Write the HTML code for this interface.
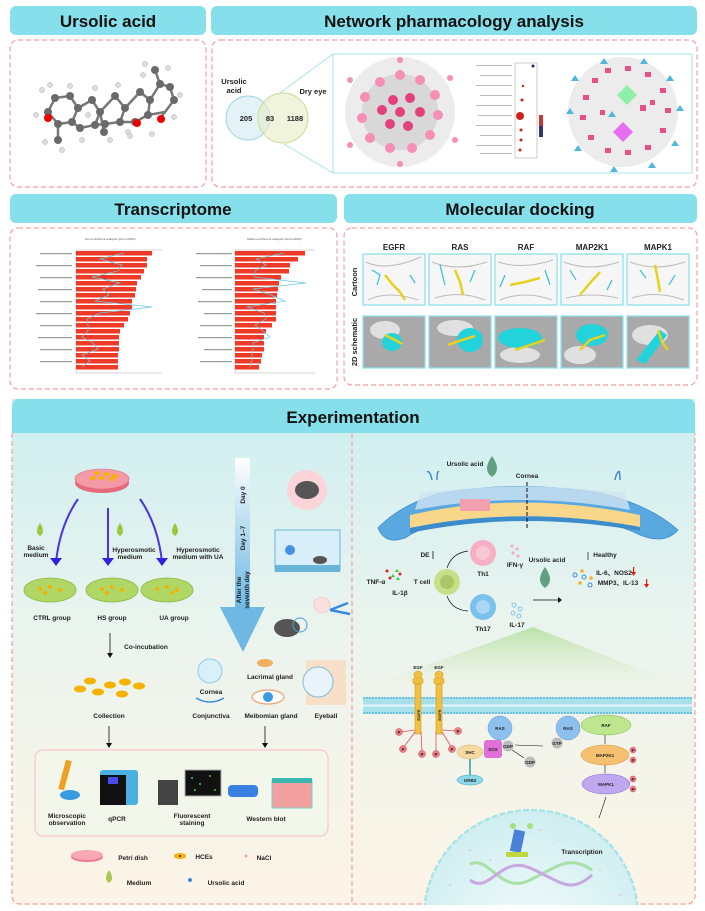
<!DOCTYPE html>
<html><head><meta charset="utf-8"><style>
html,body{margin:0;padding:0;background:#fff;width:705px;height:911px;overflow:hidden;}
svg{display:block;font-family:"Liberation Sans",sans-serif;}
.h{font-weight:bold;font-size:17px;fill:#111;text-anchor:middle;}
.l{font-weight:bold;font-size:6.5px;fill:#222;text-anchor:middle;}
.s{font-size:3px;fill:#555;}
</style></head><body>
<svg width="705" height="911" viewBox="0 0 705 911" xmlns="http://www.w3.org/2000/svg">
<defs>
<linearGradient id="bg" x1="0" y1="0" x2="0" y2="1"><stop offset="0" stop-color="#cdeef1"/><stop offset="0.45" stop-color="#eaf4ee"/><stop offset="1" stop-color="#fdf4e6"/></linearGradient>
<linearGradient id="tl" x1="0" y1="0" x2="0" y2="1"><stop offset="0" stop-color="#ffffff"/><stop offset="0.4" stop-color="#bfe0f2"/><stop offset="1" stop-color="#6fb8e3"/></linearGradient>
<linearGradient id="gw" x1="0" y1="0" x2="0" y2="1"><stop offset="0" stop-color="#b9e2a8"/><stop offset="1" stop-color="#f3f1e2" stop-opacity="0"/></linearGradient>
<radialGradient id="nuc" cx="0.5" cy="0.6" r="0.6"><stop offset="0" stop-color="#f4fbfb"/><stop offset="1" stop-color="#cfeef0"/></radialGradient>
</defs>

<rect x="10" y="6" width="196" height="29" rx="6" fill="#86e0ec"/>
<text class="h" x="108" y="27">Ursolic acid</text>
<rect x="211" y="6" width="486" height="29" rx="6" fill="#86e0ec"/>
<text class="h" x="454" y="27">Network pharmacology analysis</text>
<rect x="10" y="194" width="327" height="29" rx="6" fill="#86e0ec"/>
<text class="h" x="173" y="215">Transcriptome</text>
<rect x="344" y="194" width="353" height="29" rx="6" fill="#86e0ec"/>
<text class="h" x="520" y="215">Molecular docking</text>

<g fill="none" stroke="#f3a0a0" stroke-width="1.2" stroke-dasharray="5,3">
<rect x="10" y="40" width="196" height="147" rx="8"/>
<rect x="212" y="40" width="485" height="147" rx="8"/>
<rect x="10" y="228" width="327" height="161" rx="8"/>
<rect x="344" y="228" width="353" height="157" rx="8"/>
</g>

<g stroke="#777" stroke-width="2.5">
<polyline fill="none" points="48,112 55,98 70,96 78,108 72,122 58,124 48,112"/>
<polyline fill="none" points="78,108 92,100 100,112 95,125 80,128 72,122"/>
<polyline fill="none" points="100,112 115,96 125,108 120,122 105,124 95,125"/>
<polyline fill="none" points="125,108 140,92 150,100 148,115 135,122 120,122"/>
<polyline fill="none" points="150,100 160,84 170,87 174,100 165,112 148,115"/>
<line x1="58" y1="124" x2="58" y2="140"/><line x1="100" y1="112" x2="104" y2="132"/><line x1="160" y1="84" x2="155" y2="70"/><line x1="165" y1="112" x2="160" y2="118"/>
</g>
<g fill="#6a6a6a">
<circle cx="48" cy="112" r="4"/><circle cx="55" cy="98" r="4"/><circle cx="70" cy="96" r="4"/><circle cx="78" cy="108" r="4"/><circle cx="72" cy="122" r="4"/><circle cx="58" cy="124" r="4"/><circle cx="92" cy="100" r="4"/><circle cx="100" cy="112" r="4"/><circle cx="95" cy="125" r="4"/><circle cx="80" cy="128" r="4"/><circle cx="115" cy="96" r="4"/><circle cx="125" cy="108" r="4"/><circle cx="120" cy="122" r="4"/><circle cx="105" cy="124" r="4"/><circle cx="140" cy="92" r="4"/><circle cx="150" cy="100" r="4"/><circle cx="148" cy="115" r="4"/><circle cx="135" cy="122" r="4"/><circle cx="160" cy="84" r="4"/><circle cx="170" cy="87" r="4"/><circle cx="174" cy="100" r="4"/><circle cx="58" cy="140" r="4"/><circle cx="104" cy="132" r="4"/><circle cx="155" cy="70" r="4"/>
</g>
<g fill="#ddd" stroke="#aaa" stroke-width="0.5">
<circle cx="42" cy="90" r="2.5"/><circle cx="50" cy="85" r="2.5"/><circle cx="70" cy="86" r="2.5"/><circle cx="95" cy="88" r="2.5"/><circle cx="118" cy="85" r="2.5"/><circle cx="143" cy="75" r="2.5"/><circle cx="145" cy="64" r="2.5"/><circle cx="168" cy="68" r="2.5"/><circle cx="180" cy="95" r="2.5"/><circle cx="174" cy="117" r="2.5"/><circle cx="152" cy="134" r="2.5"/><circle cx="130" cy="136" r="2.5"/><circle cx="110" cy="140" r="2.5"/><circle cx="82" cy="140" r="2.5"/><circle cx="62" cy="150" r="2.5"/><circle cx="45" cy="142" r="2.5"/><circle cx="36" cy="115" r="2.5"/><circle cx="88" cy="115" r="2.5"/><circle cx="128" cy="132" r="2.5"/>
</g>
<circle cx="48" cy="118" r="4" fill="#e00"/><circle cx="137" cy="123" r="4" fill="#e00"/><circle cx="161" cy="119" r="4" fill="#e00"/>

<circle cx="248" cy="118" r="22" fill="#cfeaf2" fill-opacity="0.6" stroke="#9fd3e2"/>
<circle cx="283" cy="118" r="25" fill="#e6ecc4" fill-opacity="0.6" stroke="#c5dc90"/>
<text class="l" x="234" y="84" style="font-size:7.5px">Ursolic</text>
<text class="l" x="234" y="93" style="font-size:7.5px">acid</text>
<text class="l" x="313" y="94" style="font-size:7.5px">Dry eye</text>
<text class="l" x="246" y="121" style="font-size:7.5px">205</text>
<text class="l" x="270" y="121" style="font-size:7.5px">83</text>
<text class="l" x="295" y="121" style="font-size:7.5px">1188</text>
<line x1="280" y1="93" x2="333" y2="54" stroke="#9fe0ec" stroke-width="0.8"/>
<line x1="284" y1="144" x2="333" y2="173" stroke="#9fe0ec" stroke-width="0.8"/>
<rect x="333" y="54" width="359" height="119" fill="none" stroke="#a8e4ee" stroke-width="1"/>
<circle cx="400" cy="112" r="55" fill="#ececec"/>
<circle cx="400" cy="112" r="38" fill="#d8d8d8"/>
<g fill="#f58fb6">
<circle cx="400" cy="75" r="5"/><circle cx="420" cy="80" r="5"/><circle cx="435" cy="95" r="5"/><circle cx="438" cy="115" r="5"/><circle cx="430" cy="135" r="5"/><circle cx="412" cy="148" r="5"/><circle cx="390" cy="148" r="5"/><circle cx="370" cy="138" r="5"/><circle cx="362" cy="118" r="5"/><circle cx="365" cy="97" r="5"/><circle cx="380" cy="82" r="5"/>
<circle cx="350" cy="80" r="3"/><circle cx="450" cy="78" r="3"/><circle cx="455" cy="140" r="3"/><circle cx="350" cy="145" r="3"/><circle cx="400" cy="60" r="3"/><circle cx="400" cy="164" r="3"/>
</g>
<g fill="#e3407e">
<circle cx="393" cy="100" r="5"/><circle cx="410" cy="98" r="5"/><circle cx="420" cy="112" r="5"/><circle cx="408" cy="126" r="5"/><circle cx="390" cy="124" r="5"/><circle cx="382" cy="110" r="5"/><circle cx="400" cy="112" r="5"/>
</g>
<rect x="515" y="63" width="22" height="95" fill="#fff" stroke="#999" stroke-width="0.5"/>
<g fill="#c22"><circle cx="520" cy="116" r="4"/><circle cx="521" cy="130" r="1.5"/><circle cx="521" cy="140" r="1.5"/><circle cx="520" cy="150" r="1.5"/><circle cx="522" cy="100" r="1.5"/><circle cx="523" cy="86" r="1.2"/></g>
<circle cx="533" cy="66" r="1.5" fill="#227"/>
<g fill="#bbb"><rect x="476" y="65" width="36" height="1"/><rect x="480" y="75" width="32" height="1"/><rect x="476" y="85" width="36" height="1"/><rect x="480" y="95" width="32" height="1"/><rect x="476" y="105" width="36" height="1"/><rect x="478" y="115" width="34" height="1"/><rect x="476" y="125" width="36" height="1"/><rect x="480" y="135" width="32" height="1"/><rect x="476" y="145" width="36" height="1"/><rect x="480" y="153" width="32" height="1"/></g>
<rect x="539" y="115" width="4" height="22" fill="#c33"/><rect x="539" y="126" width="4" height="11" fill="#337"/>
<circle cx="623" cy="112" r="55" fill="#ececec"/>
<g fill="#e84e8a">
<rect x="605" y="68" width="6" height="5"/><rect x="625" y="66" width="6" height="5"/><rect x="645" y="72" width="6" height="5"/><rect x="660" y="88" width="6" height="5"/><rect x="665" y="108" width="6" height="5"/><rect x="660" y="128" width="6" height="5"/><rect x="645" y="145" width="6" height="5"/><rect x="625" y="150" width="6" height="5"/><rect x="605" y="148" width="6" height="5"/><rect x="588" y="135" width="6" height="5"/><rect x="580" y="115" width="6" height="5"/><rect x="583" y="95" width="6" height="5"/><rect x="592" y="78" width="6" height="5"/><rect x="640" y="105" width="6" height="6"/><rect x="650" y="100" width="5" height="5"/><rect x="600" y="110" width="5" height="5"/>
</g>
<polygon points="627,85 637,95 627,105 617,95" fill="#8ef0a8"/>
<polygon points="623,122 633,132 623,142 613,132" fill="#e66ef0"/>
<g fill="#4fb8e0"><polygon points="604,58 608,64 600,64"/><polygon points="644,58 648,64 640,64"/><polygon points="575,75 579,81 571,81"/><polygon points="570,108 574,114 566,114"/><polygon points="578,145 582,151 574,151"/><polygon points="614,166 618,172 610,172"/><polygon points="652,162 656,168 648,168"/><polygon points="675,140 679,146 671,146"/><polygon points="680,105 684,111 676,111"/><polygon points="670,75 674,81 666,81"/><polygon points="612,111 616,117 608,117"/></g>

<text class="s" x="85" y="240">GO enrichment analysis (UA vs MOD)</text>
<text class="s" x="247" y="240">KEGG enrichment analysis (UA vs MOD)</text>
<line x1="76" y1="250" x2="162" y2="250" stroke="#999" stroke-width="0.4"/>
<line x1="76" y1="250" x2="76" y2="373" stroke="#999" stroke-width="0.4"/>
<line x1="76" y1="373" x2="162" y2="373" stroke="#999" stroke-width="0.4"/>
<line x1="235" y1="250" x2="315" y2="250" stroke="#999" stroke-width="0.4"/>
<line x1="235" y1="250" x2="235" y2="373" stroke="#999" stroke-width="0.4"/>
<line x1="235" y1="373" x2="315" y2="373" stroke="#999" stroke-width="0.4"/>
<g fill="#ee3a26">
<rect x="76" y="251" width="76" height="4.5"/><rect x="76" y="257" width="71" height="4.5"/><rect x="76" y="263" width="71" height="4.5"/><rect x="76" y="269" width="68" height="4.5"/><rect x="76" y="275" width="65" height="4.5"/><rect x="76" y="281" width="61" height="4.5"/><rect x="76" y="287" width="60" height="4.5"/><rect x="76" y="293" width="59" height="4.5"/><rect x="76" y="299" width="56" height="4.5"/><rect x="76" y="305" width="56" height="4.5"/><rect x="76" y="311" width="54" height="4.5"/><rect x="76" y="317" width="52" height="4.5"/><rect x="76" y="323" width="48" height="4.5"/><rect x="76" y="329" width="44" height="4.5"/><rect x="76" y="335" width="43" height="4.5"/><rect x="76" y="341" width="43" height="4.5"/><rect x="76" y="347" width="43" height="4.5"/><rect x="76" y="353" width="42" height="4.5"/><rect x="76" y="359" width="42" height="4.5"/><rect x="76" y="365" width="42" height="4.5"/>
<rect x="235" y="251" width="70" height="4.5"/><rect x="235" y="257" width="63" height="4.5"/><rect x="235" y="263" width="55" height="4.5"/><rect x="235" y="269" width="54" height="4.5"/><rect x="235" y="275" width="46" height="4.5"/><rect x="235" y="281" width="44" height="4.5"/><rect x="235" y="287" width="43" height="4.5"/><rect x="235" y="293" width="42" height="4.5"/><rect x="235" y="299" width="41" height="4.5"/><rect x="235" y="305" width="41" height="4.5"/><rect x="235" y="311" width="41" height="4.5"/><rect x="235" y="317" width="41" height="4.5"/><rect x="235" y="323" width="37" height="4.5"/><rect x="235" y="329" width="31" height="4.5"/><rect x="235" y="335" width="29" height="4.5"/><rect x="235" y="341" width="29" height="4.5"/><rect x="235" y="347" width="29" height="4.5"/><rect x="235" y="353" width="27" height="4.5"/><rect x="235" y="359" width="26" height="4.5"/><rect x="235" y="365" width="24" height="4.5"/>
</g>
<polyline fill="none" stroke="#6cc8e4" stroke-width="0.7" points="124,253 100,259 122,265 118,271 92,277 120,283 103,289 109,295 95,301 152,307 100,313 87,319 88,325 88,331 82,337 93,343 98,349 82,355 90,361 82,367"/>
<polyline fill="none" stroke="#6cc8e4" stroke-width="0.7" points="284,253 256,259 266,265 255,271 254,277 306,283 253,289 271,295 285,301 247,307 264,313 266,319 255,325 263,331 270,337 253,343 253,349 252,355 252,361 250,367"/>
<g fill="#999"><rect x="40" y="253" width="32" height="1.2"/><rect x="36" y="265" width="36" height="1.2"/><rect x="40" y="277" width="32" height="1.2"/><rect x="38" y="289" width="34" height="1.2"/><rect x="40" y="301" width="32" height="1.2"/><rect x="36" y="313" width="36" height="1.2"/><rect x="40" y="325" width="32" height="1.2"/><rect x="38" y="337" width="34" height="1.2"/><rect x="40" y="349" width="32" height="1.2"/><rect x="40" y="361" width="32" height="1.2"/>
<rect x="196" y="253" width="36" height="1.2"/><rect x="200" y="265" width="32" height="1.2"/><rect x="196" y="277" width="36" height="1.2"/><rect x="202" y="289" width="30" height="1.2"/><rect x="198" y="301" width="34" height="1.2"/><rect x="204" y="313" width="28" height="1.2"/><rect x="200" y="325" width="32" height="1.2"/><rect x="198" y="337" width="34" height="1.2"/><rect x="204" y="349" width="28" height="1.2"/><rect x="200" y="361" width="32" height="1.2"/></g>

<g class="l" style="font-size:8px">
<text x="394" y="250" text-anchor="middle">EGFR</text><text x="460" y="250" text-anchor="middle">RAS</text><text x="526" y="250" text-anchor="middle">RAF</text><text x="592" y="250" text-anchor="middle">MAP2K1</text><text x="658" y="250" text-anchor="middle">MAPK1</text>
</g>
<text class="l" transform="translate(357,282) rotate(-90)" style="font-size:7.5px">Cartoon</text>
<text class="l" transform="translate(357,342) rotate(-90)" style="font-size:7.5px">2D schematic</text>
<g stroke="#8ee0ec" stroke-width="1.3">
<rect x="363" y="254" width="62" height="51" fill="#f6f6f6"/><rect x="429" y="254" width="62" height="51" fill="#f6f6f6"/><rect x="495" y="254" width="62" height="51" fill="#f6f6f6"/><rect x="561" y="254" width="62" height="51" fill="#f6f6f6"/><rect x="627" y="254" width="62" height="51" fill="#f6f6f6"/>
<rect x="363" y="316" width="62" height="52" fill="#a9a9a9"/><rect x="429" y="316" width="62" height="52" fill="#a9a9a9"/><rect x="495" y="316" width="62" height="52" fill="#a9a9a9"/><rect x="561" y="316" width="62" height="52" fill="#a9a9a9"/><rect x="627" y="316" width="62" height="52" fill="#a9a9a9"/>
</g>
<g stroke="#bbb" stroke-width="1" fill="none"><path d="M366,262 q20,10 55,-5 M368,300 q20,-10 50,0 M432,262 q25,10 55,0 M435,298 q25,-8 50,2 M498,262 q25,8 55,-2 M500,300 q25,-10 52,0 M564,262 q25,10 55,0 M566,298 q25,-6 52,0 M630,262 q25,10 55,0 M632,298 q25,-8 52,2"/></g>
<g fill="#e0e0e0"><ellipse cx="385" cy="330" rx="15" ry="9"/><ellipse cx="455" cy="328" rx="18" ry="8"/><ellipse cx="520" cy="355" rx="20" ry="8"/><ellipse cx="580" cy="355" rx="16" ry="9"/><ellipse cx="650" cy="335" rx="18" ry="10"/></g>
<g fill="#22d3dc"><ellipse cx="392" cy="342" rx="10" ry="9"/><ellipse cx="470" cy="340" rx="13" ry="12"/><ellipse cx="520" cy="338" rx="22" ry="10"/><ellipse cx="592" cy="335" rx="16" ry="11"/><path d="M636,360 L660,330 L667,335 L645,364 Z"/></g>
<g stroke="#e8d21c" stroke-width="2.5" fill="none">
<polyline points="385,275 393,285 400,292 405,300"/><polyline points="455,270 460,282 463,295"/><polyline points="510,285 525,282 540,278"/><polyline points="580,295 590,283 600,272"/><polyline points="655,265 658,280 660,292"/>
<polyline points="385,335 395,340 402,344"/><polyline points="448,345 462,340 475,336"/><polyline points="515,350 530,345 545,340"/><polyline points="580,350 590,340 605,335"/><polyline points="658,330 662,342 668,350"/>
</g>
<g stroke="#2cc2d6" stroke-width="1.2" fill="none"><path d="M372,270 l8,5 -3,10 M410,275 l5,8 M440,265 l5,20 M475,270 l-5,12 M505,275 l-5,12 M545,270 l5,15 M570,270 l6,10 M612,280 l-5,10 M640,270 l6,8 M675,275 l-6,10"/></g>

<rect x="12" y="399" width="683" height="506" fill="url(#bg)"/>
<rect x="12" y="399" width="683" height="34" rx="7" fill="#86e0ec"/>
<rect x="12" y="420" width="683" height="13" fill="#86e0ec"/>
<text class="h" x="353" y="423">Experimentation</text>
<g fill="none" stroke="#f3a0a0" stroke-width="1.2" stroke-dasharray="5,3">
<path d="M12,433 V896 a8,8 0 0 0 8,8 H687 a8,8 0 0 0 8,-8 V433"/>
<line x1="352" y1="433" x2="352" y2="904"/>
</g>

<ellipse cx="102" cy="483" rx="27" ry="10" fill="#e66a7c"/>
<ellipse cx="102" cy="479" rx="27" ry="10" fill="#f49aa6" stroke="#e66a7c" stroke-width="0.6"/>
<g fill="#f5b300"><ellipse cx="97" cy="473" rx="3" ry="2"/><ellipse cx="107" cy="474" rx="3" ry="2"/><ellipse cx="115" cy="476" rx="3" ry="2"/><ellipse cx="93" cy="478" rx="3" ry="2"/><ellipse cx="102" cy="478" rx="3" ry="2"/><ellipse cx="112" cy="479" rx="3" ry="2"/></g>
<g stroke="#4a32e6" stroke-width="2" fill="none"><path d="M78,499 Q60,525 56,562"/><path d="M108,508 L108,562"/><path d="M140,499 Q158,525 162,562"/></g>
<g fill="#3322dd"><polygon points="50,558 62,558 56,566"/><polygon points="102,558 114,558 108,566"/><polygon points="156,558 168,558 162,566"/></g>
<g fill="#9cc63c"><path d="M40,523 q-6,9 0,13 q6,-4 0,-13z"/><path d="M120,523 q-6,9 0,13 q6,-4 0,-13z"/><path d="M175,523 q-6,9 0,13 q6,-4 0,-13z"/></g>
<text class="l" x="36" y="550">Basic</text><text class="l" x="36" y="557">medium</text>
<text class="l" x="134" y="552">Hyperosmotic</text><text class="l" x="130" y="559">medium</text>
<text class="l" x="198" y="552">Hyperosmotic</text><text class="l" x="198" y="559">medium with UA</text>
<g fill="#b0d665" stroke="#8eb843" stroke-width="0.8"><ellipse cx="50" cy="590" rx="26" ry="12"/><ellipse cx="112" cy="590" rx="26" ry="12"/><ellipse cx="167" cy="590" rx="26" ry="12"/></g>
<g fill="#f5b300"><circle cx="40" cy="589" r="2"/><circle cx="50" cy="587" r="2"/><circle cx="60" cy="590" r="2"/><circle cx="45" cy="593" r="2"/><circle cx="102" cy="589" r="2"/><circle cx="112" cy="587" r="2"/><circle cx="122" cy="590" r="2"/><circle cx="107" cy="593" r="2"/><circle cx="157" cy="589" r="2"/><circle cx="167" cy="587" r="2"/><circle cx="177" cy="590" r="2"/><circle cx="172" cy="593" r="2"/></g>
<text class="l" x="52" y="620">CTRL group</text><text class="l" x="112" y="620">HS group</text><text class="l" x="174" y="620">UA group</text>
<g stroke="#111" stroke-width="0.8"><line x1="110" y1="633" x2="110" y2="655"/><line x1="109" y1="726" x2="109" y2="745"/><line x1="265" y1="726" x2="265" y2="745"/></g>
<g fill="#111"><polygon points="107,653 113,653 110,658"/><polygon points="106,743 112,743 109,748"/><polygon points="262,743 268,743 265,748"/></g>
<text class="l" x="146" y="649">Co-incubation</text>
<g fill="#f5b300"><ellipse cx="80" cy="689" rx="6" ry="3.5"/><ellipse cx="98" cy="692" rx="6" ry="3.5"/><ellipse cx="110" cy="685" rx="6" ry="3.5"/><ellipse cx="125" cy="682" rx="6" ry="3.5"/><ellipse cx="139" cy="686" rx="6" ry="3.5"/><ellipse cx="122" cy="694" rx="6" ry="3.5"/><ellipse cx="90" cy="681" rx="6" ry="3.5"/></g>
<text class="l" x="109" y="718">Collection</text>
<rect x="235" y="458" width="15" height="150" fill="url(#tl)"/>
<polygon points="220,607 265,607 243,652" fill="#6fb8e3"/>
<text class="l" transform="translate(245,495) rotate(-90)">Day 0</text>
<text class="l" transform="translate(245,538) rotate(-90)">Day 1–7</text>
<text class="l" transform="translate(241,590) rotate(-90)">After the</text>
<text class="l" transform="translate(249,590) rotate(-90)">seventh day</text>
<circle cx="307" cy="490" r="20" fill="#fad4d8"/>
<ellipse cx="307" cy="490" rx="12" ry="9" fill="#555"/>
<rect x="275" y="530" width="65" height="40" fill="#d8eef8" stroke="#68b5d8"/>
<rect x="275" y="565" width="65" height="7" fill="#68b5d8"/>
<ellipse cx="320" cy="560" rx="7" ry="4" fill="#555"/>
<circle cx="290" cy="550" r="5" fill="#4a90e2"/>
<ellipse cx="287" cy="628" rx="13" ry="9" fill="#555"/>
<circle cx="300" cy="625" r="7" fill="none" stroke="#4aa0d8" stroke-width="1"/>
<circle cx="322" cy="605" r="8" fill="#fbe0e0" stroke="#ebb" stroke-width="0.6"/>
<path d="M330,610 L348,603 M330,610 L350,614" stroke="#3a8ae0" stroke-width="2.5"/>
<circle cx="210" cy="671" r="12" fill="#d8f0fa" stroke="#8fcbe6"/>
<path d="M196,698 q14,8 28,0" stroke="#3a8ae0" stroke-width="1.5" fill="none"/>
<text class="l" x="211" y="694">Cornea</text><text class="l" x="211" y="718">Conjunctiva</text>
<ellipse cx="265" cy="663" rx="8" ry="4" fill="#f0b060"/>
<text class="l" x="270" y="679">Lacrimal gland</text>
<ellipse cx="268" cy="697" rx="16" ry="7" fill="#fff" stroke="#e8a070" stroke-width="1.2"/>
<circle cx="268" cy="697" r="5" fill="#3a9ae0"/>
<text class="l" x="271" y="718">Meibomian gland</text>
<rect x="306" y="660" width="40" height="45" fill="#f8e0c8"/>
<circle cx="318" cy="682" r="15" fill="#e8f4fa" stroke="#88bbd8"/>
<text class="l" x="326" y="718">Eyeball</text>
<rect x="35" y="750" width="293" height="86" rx="8" fill="#f3f6ea" stroke="#f5c8cc" stroke-width="1.2"/>
<rect x="62" y="760" width="6" height="30" fill="#f0a020" transform="rotate(15,65,775)"/>
<ellipse cx="70" cy="795" rx="10" ry="5" fill="#3a9ae0"/>
<rect x="100" y="770" width="38" height="35" rx="3" fill="#4ab0e0"/><rect x="100" y="775" width="26" height="30" fill="#111"/><rect x="108" y="777" width="10" height="7" fill="#4a4aee"/>
<rect x="158" y="780" width="20" height="25" fill="#444"/><rect x="185" y="770" width="36" height="26" fill="#111" stroke="#aaa"/>
<g fill="#4c4"><circle cx="192" cy="778" r="1"/><circle cx="200" cy="784" r="1"/><circle cx="210" cy="776" r="1"/><circle cx="215" cy="790" r="1"/><circle cx="195" cy="790" r="1"/></g>
<rect x="228" y="785" width="30" height="12" rx="4" fill="#3a80e0"/>
<rect x="272" y="780" width="40" height="28" fill="#f3a0a0" stroke="#7cc" stroke-width="1"/><rect x="272" y="778" width="40" height="5" fill="#3bb8b0"/>
<text class="l" x="67" y="818">Microscopic</text><text class="l" x="67" y="825">observation</text>
<text class="l" x="117" y="821">qPCR</text>
<text class="l" x="192" y="818">Fluorescent</text><text class="l" x="192" y="825">staining</text>
<text class="l" x="266" y="821">Western blot</text>
<ellipse cx="87" cy="857" rx="16" ry="5" fill="#ef7a8a"/><ellipse cx="87" cy="855" rx="16" ry="5" fill="#f7a8b2"/>
<text class="l" x="133" y="860">Petri dish</text>
<ellipse cx="180" cy="856" rx="6" ry="3" fill="#f5b300"/><circle cx="180" cy="856" r="1" fill="#111"/>
<text class="l" x="204" y="859">HCEs</text>
<circle cx="246" cy="856" r="1.5" fill="#f5a0c8"/>
<text class="l" x="264" y="860">NaCl</text>
<path d="M109,870 q-6,9 0,13 q6,-4 0,-13z" fill="#a8c850"/>
<text class="l" x="139" y="885">Medium</text>
<circle cx="190" cy="880" r="2" fill="#3a8ae0"/>
<text class="l" x="226" y="885">Ursolic acid</text>

<path d="M378,528 Q400,505 440,493 Q520,480 600,493 Q650,505 678,530 Q665,545 640,535 Q600,515 520,513 Q440,515 405,538 Q385,545 378,528 Z" fill="#5aa8e0" stroke="#3c8ccc" stroke-width="0.8"/>
<path d="M410,515 Q520,490 640,515 L640,527 Q520,505 410,528 Z" fill="#f8d68a"/>
<path d="M410,528 Q520,505 640,527 L640,531 Q520,510 410,533 Z" fill="#3c8ccc"/>
<path d="M420,493 Q520,480 625,493 L630,510 Q520,490 415,510 Z" fill="#d0e4f2" opacity="0.8"/>
<rect x="460" y="499" width="30" height="12" fill="#f2a0b0"/>
<path d="M432,480 q-2,-10 -5,-8 M437,480 q0,-10 2,-8 M615,480 q2,-10 5,-8 M620,480 q0,-10 -2,-8" stroke="#3c8ccc" stroke-width="1.5" fill="none"/>
<line x1="527" y1="482" x2="527" y2="528" stroke="#111" stroke-width="1" stroke-dasharray="4,2"/>
<text class="l" x="465" y="466">Ursolic acid</text>
<path d="M492,456 q-10,14 0,21 q10,-7 0,-21z" fill="#5fa080"/>
<text class="l" x="527" y="478">Cornea</text>
<text class="l" x="425" y="557">DE</text>
<line x1="433" y1="551" x2="433" y2="559" stroke="#111" stroke-width="0.8"/>
<g fill="#d22"><circle cx="387" cy="571" r="1.5"/><circle cx="400" cy="574" r="1.5"/><circle cx="390" cy="578" r="1.5"/></g>
<g fill="#3c3"><polygon points="397,569 399,572 395,572"/><polygon points="393,574 395,577 391,577"/><polygon points="398,577 400,580 396,580"/></g>
<text class="l" x="376" y="584">TNF-α</text><text class="l" x="400" y="595">IL-1β</text>
<circle cx="447" cy="582" r="13" fill="#c6e08a"/><circle cx="447" cy="582" r="7" fill="#a8c868"/>
<text class="l" x="422" y="584">T cell</text>
<circle cx="483" cy="553" r="13" fill="#f5b0c4"/><circle cx="483" cy="553" r="7" fill="#f7c8d4"/>
<circle cx="483" cy="607" r="13" fill="#7cc0ec"/><circle cx="483" cy="607" r="7" fill="#a8d6f4"/>
<g stroke="#111" stroke-width="0.7" fill="none"><path d="M447,568 Q452,553 468,551"/><path d="M447,596 Q452,610 468,611"/><line x1="533" y1="600" x2="558" y2="600"/><line x1="588" y1="552" x2="588" y2="560"/></g>
<polygon points="558,597 562,600 558,603" fill="#111"/>
<text class="l" x="483" y="576">Th1</text><text class="l" x="483" y="631">Th17</text>
<g fill="#f5a8c0"><circle cx="512" cy="546" r="1.5"/><circle cx="517" cy="549" r="1.5"/><circle cx="513" cy="553" r="1.5"/><circle cx="518" cy="556" r="1.5"/></g>
<text class="l" x="515" y="567">IFN-γ</text>
<g fill="none" stroke="#6cb8ec" stroke-width="0.8"><circle cx="514" cy="605" r="2"/><circle cx="520" cy="609" r="2"/><circle cx="513" cy="613" r="2"/><circle cx="519" cy="616" r="2"/></g>
<text class="l" x="517" y="627">IL-17</text>
<text class="l" x="547" y="562">Ursolic acid</text>
<path d="M545,567 q-10,14 0,21 q10,-7 0,-21z" fill="#5fa080"/>
<text class="l" x="605" y="557">Healthy</text>
<g fill="#f5b030"><circle cx="582" cy="571" r="1.8"/><circle cx="591" cy="578" r="1.8"/><circle cx="580" cy="583" r="1.8"/></g>
<g fill="none" stroke="#3a8ae0" stroke-width="1"><circle cx="575" cy="575" r="2"/><circle cx="584" cy="577" r="2"/><circle cx="590" cy="585" r="2"/></g>
<text class="l" x="614" y="575">IL-6、NOS2</text><text class="l" x="618" y="585">MMP3、IL-13</text>
<g fill="#e11"><rect x="633" y="567" width="1.2" height="6"/><polygon points="631,572 636,572 633.6,576"/><rect x="646" y="579" width="1.2" height="6"/><polygon points="644,584 649,584 646.6,588"/></g>
<polygon points="533,627 692,690 692,696 363,696 363,688" fill="url(#gw)"/>
<rect x="363" y="697" width="329" height="17" fill="#a8e0ec"/>
<line x1="363" y1="705.5" x2="692" y2="705.5" stroke="#e8f6fa" stroke-width="2"/>
<line x1="363" y1="698" x2="692" y2="698" stroke="#5ab8d8" stroke-width="1.5" stroke-dasharray="2,1"/>
<line x1="363" y1="713" x2="692" y2="713" stroke="#5ab8d8" stroke-width="1.5" stroke-dasharray="2,1"/>
<text class="l" x="418" y="669" style="font-size:4.5px">EGF</text><text class="l" x="439" y="669" style="font-size:4.5px">EGF</text>
<g fill="#f0c040" stroke="#d49a20" stroke-width="0.6"><circle cx="418" cy="675" r="4"/><circle cx="439" cy="675" r="4"/><rect x="413" y="678" width="10" height="6" rx="2"/><rect x="434" y="678" width="10" height="6" rx="2"/><rect x="415" y="684" width="6" height="50"/><rect x="436" y="684" width="6" height="50"/></g>
<g stroke="#e05060" stroke-width="0.8"><line x1="415" y1="730" x2="400" y2="732"/><line x1="415" y1="732" x2="403" y2="748"/><line x1="421" y1="732" x2="422" y2="752"/><line x1="436" y1="732" x2="436" y2="752"/><line x1="442" y1="730" x2="457" y2="731"/><line x1="442" y1="732" x2="452" y2="748"/></g>
<g fill="#f08088" stroke="#d04050" stroke-width="0.5"><circle cx="399" cy="732" r="3.5"/><circle cx="403" cy="749" r="3.5"/><circle cx="422" cy="754" r="3.5"/><circle cx="436" cy="754" r="3.5"/><circle cx="458" cy="731" r="3.5"/><circle cx="452" cy="749" r="3.5"/><circle cx="633" cy="750" r="3"/><circle cx="633" cy="760" r="3"/><circle cx="633" cy="779" r="3"/><circle cx="633" cy="789" r="3"/></g>
<ellipse cx="470" cy="752" rx="13" ry="7" fill="#f5d9a0" stroke="#d8b070" stroke-width="0.5"/>
<line x1="470" y1="759" x2="470" y2="776" stroke="#2aa0a0" stroke-width="1.5"/>
<ellipse cx="470" cy="780" rx="13" ry="5" fill="#8ed8ec" stroke="#3ab" stroke-width="0.5"/>
<rect x="484" y="740" width="18" height="18" rx="3" fill="#e070d8"/>
<circle cx="500" cy="728" r="12" fill="#8ec0ee" stroke="#5a9ad8" stroke-width="0.5"/>
<circle cx="508" cy="746" r="5.5" fill="#bbb"/><circle cx="530" cy="762" r="5.5" fill="#bbb"/>
<circle cx="568" cy="728" r="12" fill="#8ec0ee" stroke="#5a9ad8" stroke-width="0.5"/>
<circle cx="557" cy="743" r="5.5" fill="#bbb"/>
<ellipse cx="606" cy="725" rx="25" ry="10" fill="#bde68e" stroke="#7ab050" stroke-width="0.5"/>
<ellipse cx="605" cy="755" rx="24" ry="10" fill="#f5c070" stroke="#d89030" stroke-width="0.5"/>
<ellipse cx="606" cy="784" rx="24" ry="10" fill="#c0a8f0" stroke="#8068d0" stroke-width="0.5"/>
<g stroke="#111" stroke-width="0.6"><line x1="515" y1="745" x2="543" y2="746"/><line x1="512" y1="750" x2="524" y2="758"/><line x1="605" y1="735" x2="605" y2="744"/><line x1="605" y1="765" x2="605" y2="773"/><line x1="606" y1="797" x2="599" y2="818"/></g>
<g style="font-size:4.5px" class="l"><text x="470" y="754">SHC</text><text x="493" y="751">SOS</text><text x="470" y="782">GRB2</text><text x="500" y="730">RAS</text><text x="508" y="748">GDP</text><text x="530" y="764">GDP</text><text x="568" y="730">RAS</text><text x="557" y="745">GTP</text><text x="606" y="727">RAF</text><text x="605" y="757">MAP2K1</text><text x="606" y="786">MAPK1</text>
<text x="399" y="734">P</text><text x="403" y="751">P</text><text x="422" y="756">P</text><text x="436" y="756">P</text><text x="458" y="733">P</text><text x="452" y="751">P</text><text x="633" y="752">P</text><text x="633" y="762">P</text><text x="633" y="781">P</text><text x="633" y="791">P</text></g>
<text class="l" transform="translate(420,715) rotate(-90)" style="font-size:4px">EGFR</text><text class="l" transform="translate(441,715) rotate(-90)" style="font-size:4px">EGFR</text>
<clipPath id="cp"><rect x="352" y="700" width="343" height="205"/></clipPath>
<g clip-path="url(#cp)">
<circle cx="531" cy="917" r="107" fill="url(#nuc)" stroke="#a8e4e8" stroke-width="2.5" stroke-dasharray="6,2"/>
<g fill="#f0a8c0"><circle cx="470" cy="850" r="0.8"/><circle cx="490" cy="860" r="0.8"/><circle cx="560" cy="840" r="0.8"/><circle cx="600" cy="870" r="0.8"/><circle cx="450" cy="885" r="0.8"/><circle cx="620" cy="895" r="0.8"/><circle cx="540" cy="830" r="0.8"/></g>
<path d="M470,864 C490,855 500,895 530,880 S570,855 592,870" stroke="#a8e0a8" stroke-width="3" fill="none"/>
<path d="M470,880 C490,895 500,855 530,868 S570,895 592,875" stroke="#c8a8e0" stroke-width="3" fill="none"/>
</g>
<rect x="512" y="830" width="11" height="22" fill="#4a80d8" transform="rotate(12,517,841)"/>
<circle cx="513" cy="826" r="3" fill="#a8e080"/><circle cx="530" cy="826" r="3" fill="#a8e080"/>
<rect x="506" y="852" width="22" height="5" fill="#c0d840"/>
<text class="l" x="582" y="854">Transcription</text>
</svg>
</body></html>
